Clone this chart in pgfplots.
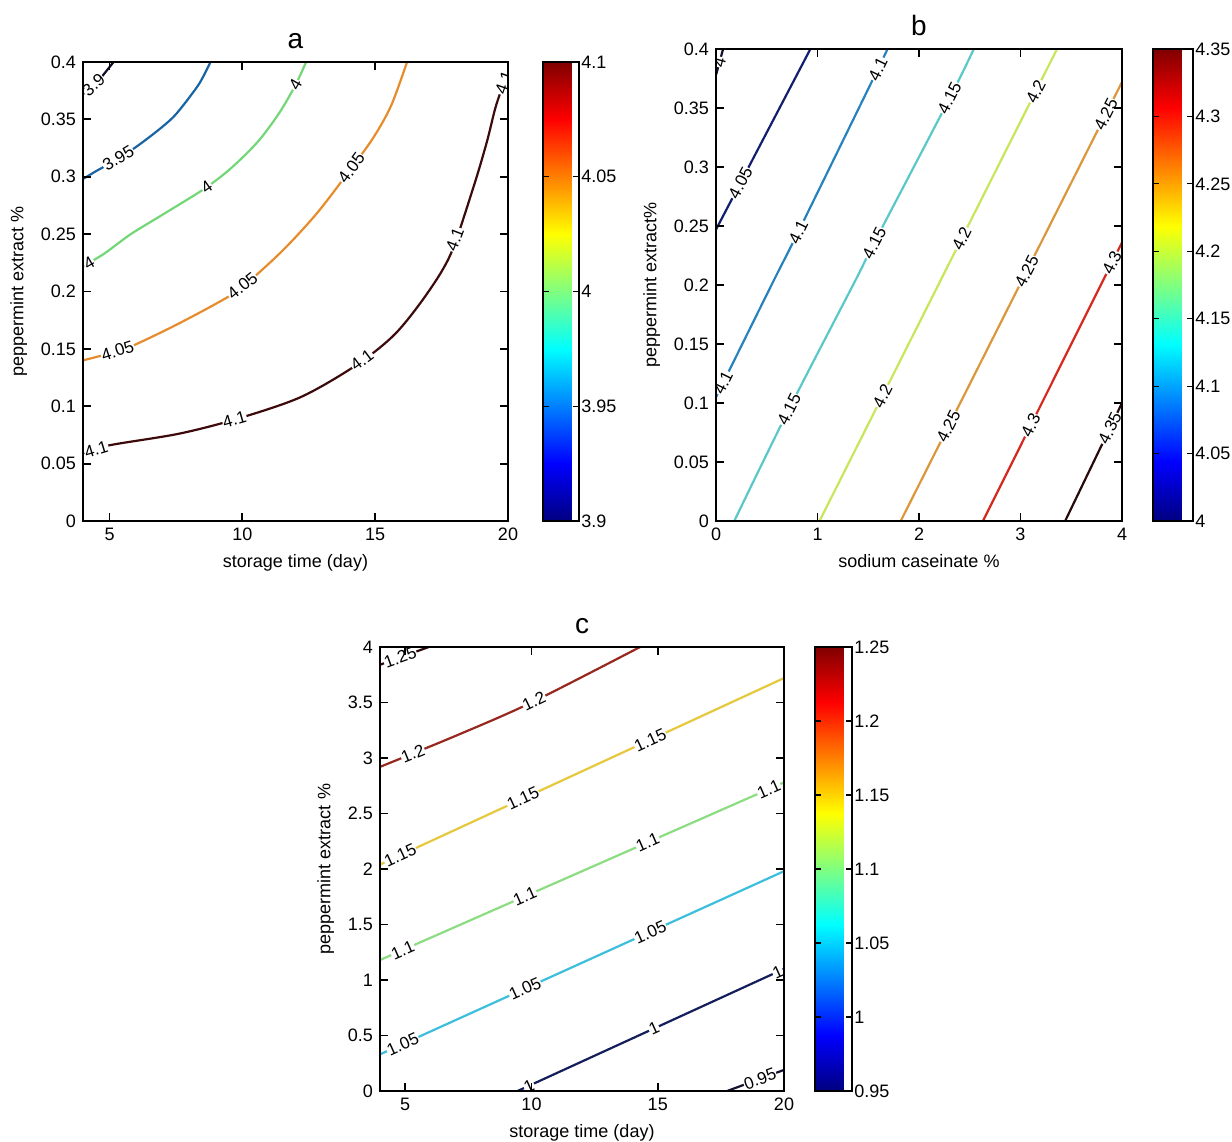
\documentclass[border=0pt]{standalone}
\usepackage{fontspec}
\setmainfont{Liberation Sans}
\usepackage{pgfplots}
\pgfplotsset{compat=1.18}

\newcommand\tk{\fontsize{9}{10}\selectfont}
\newcommand\lb{\fontsize{8.5}{9}\selectfont}

% contour colours (jet, darkened a little like the scan)
\definecolor{a39}{RGB}{15,15,45}
\definecolor{a395}{RGB}{25,100,165}
\definecolor{a4}{RGB}{115,215,120}
\definecolor{a405}{RGB}{230,140,45}
\definecolor{a41}{RGB}{60,10,10}
\definecolor{b4}{RGB}{15,15,45}
\definecolor{b405}{RGB}{20,30,110}
\definecolor{b41}{RGB}{40,130,190}
\definecolor{b415}{RGB}{90,200,200}
\definecolor{b42}{RGB}{200,230,90}
\definecolor{b425}{RGB}{220,150,60}
\definecolor{b43}{RGB}{215,40,30}
\definecolor{b435}{RGB}{40,10,10}
\definecolor{c095}{RGB}{20,20,50}
\definecolor{c1}{RGB}{20,30,90}
\definecolor{c105}{RGB}{60,190,220}
\definecolor{c11}{RGB}{140,220,130}
\definecolor{c115}{RGB}{230,200,60}
\definecolor{c12}{RGB}{150,40,30}
\definecolor{c125}{RGB}{40,10,10}

\tikzset{
  lab/.style={sloped, fill=white, inner sep=0.3pt, font=\lb, text=black},
  cl/.style={line width=1.1pt},
}
\pgfplotsset{
  /pgf/number format/assume math mode=true,
  panel/.style={
    scale only axis,
    axis on top,
    colormap/jet,
    colorbar,
    tick align=inside,
    axis line style={line width=1.1pt},
    major tick style={line width=0.9pt, black},
    major tick length=4pt,
    tick label style={font=\tk},
    label style={font=\tk},
    title style={font=\fontsize{14}{14}\selectfont, yshift=-3pt},
    scaled ticks=false,
    yticklabel style={/pgf/number format/fixed, /pgf/number format/precision=2},
  },
  cbar/.style={
    at={(parent axis.north east)}, anchor=north west,
    scale only axis,
    ytick pos=both, yticklabel pos=right,
    tick align=inside, major tick length=3pt,
    major tick style={line width=0.6pt, black},
    axis line style={line width=0.6pt},
    scaled y ticks=false,
    yticklabel style={font=\tk, inner xsep=1pt, /pgf/number format/fixed, /pgf/number format/precision=2},
  },
}
% label along a contour: two points on the line, then the text
\newcommand\clab[5]{\addplot[draw=none] coordinates {(#1,#2) (#3,#4)} node[pos=0.5,lab]{#5};}

\begin{document}
\begin{tikzpicture}
\useasboundingbox (0,0) rectangle (616pt,570.5pt);

% ---------------- a ----------------
\begin{axis}[panel,
  at={(41.5pt,310pt)}, anchor=south west,
  width=212.5pt, height=229.5pt,
  xmin=4, xmax=20, ymin=0, ymax=0.4,
  xtick={5,10,15,20},
  ytick={0,0.05,0.1,0.15,0.2,0.25,0.3,0.35,0.4},
  title={a},
  xlabel={storage time (day)},
  ylabel={peppermint extract \%},
  point meta min=3.9, point meta max=4.1,
  colorbar style={cbar, xshift=9pt, width=18pt, height=229.5pt,
    ytick={3.9,3.95,4,4.05,4.1}},
]
\addplot[cl, a39] coordinates {(4,0.372) (4.6,0.384) (5.15,0.4)};
\addplot[cl, a395, smooth] coordinates {(4,0.298) (4.5,0.305) (5.2,0.314) (6,0.326) (6.8,0.340) (7.4,0.352) (7.9,0.366) (8.4,0.382) (8.8,0.4)};
\addplot[cl, a4, smooth] coordinates {(4,0.222) (4.8,0.233) (5.8,0.250) (7,0.267) (8.6,0.290) (9.6,0.308) (10.6,0.331) (11.4,0.356) (12,0.380) (12.4,0.4)};
\addplot[cl, a405, smooth] coordinates {(4,0.140) (5,0.146) (5.8,0.152) (7.6,0.172) (9.65,0.198) (10.7,0.218) (11.7,0.240) (12.8,0.268) (13.8,0.298) (14.9,0.333) (15.6,0.362) (16.2,0.4)};
\addplot[cl, a41, smooth] coordinates {(4,0.059) (5,0.066) (7.6,0.076) (9.8,0.089) (12.2,0.108) (14.3,0.136) (15.75,0.163) (16.95,0.198) (17.85,0.233) (18.7,0.291) (19.2,0.330) (19.55,0.362) (20,0.392)};
\clab{4.15}{0.375}{4.65}{0.385}{3.9}
\clab{4.95}{0.311}{5.7}{0.3215}{3.95}
\clab{4}{0.222}{4.45}{0.228}{4}
\clab{8.3}{0.2857}{9.0}{0.2972}{4}
\clab{11.8}{0.372}{12.2}{0.388}{4}
\clab{4.9}{0.1454}{5.7}{0.1514}{4.05}
\clab{9.6}{0.1974}{10.4}{0.2123}{4.05}
\clab{13.7}{0.295}{14.5}{0.3203}{4.05}
\clab{4.1}{0.0597}{4.9}{0.0653}{4.1}
\clab{9.3}{0.0860}{10.1}{0.0914}{4.1}
\clab{14.1}{0.1334}{14.9}{0.1472}{4.1}
\clab{17.7}{0.2272}{18.3}{0.2637}{4.1}
\clab{19.7}{0.372}{20}{0.392}{4.1}
\end{axis}

% ---------------- b ----------------
\begin{axis}[panel,
  at={(358pt,310pt)}, anchor=south west,
  width=203pt, height=236pt,
  xmin=0, xmax=4, ymin=0, ymax=0.4,
  xtick={0,1,2,3,4},
  ytick={0,0.05,0.1,0.15,0.2,0.25,0.3,0.35,0.4},
  title={b},
  xlabel={sodium caseinate \%},
  ylabel={peppermint extract\%},
  point meta min=4, point meta max=4.35,
  colorbar style={cbar, xshift=7pt, width=20pt, height=236pt,
    ytick={4,4.05,4.1,4.15,4.2,4.25,4.3,4.35}},
]
\addplot[cl, b4] coordinates {(0,0.378) (0.07,0.4)};
\addplot[cl, b405] coordinates {(0,0.247) (0.93,0.4)};
\addplot[cl, b41, smooth] coordinates {(0,0.105) (0.15,0.131) (0.57,0.204) (0.81,0.245) (1.55,0.375) (1.69,0.4)};
\addplot[cl, b415, smooth] coordinates {(0.18,0) (0.72,0.095) (1.38,0.205) (1.56,0.236) (2.3,0.358) (2.54,0.4)};
\addplot[cl, b42] coordinates {(1.02,0) (3.36,0.4)};
\addplot[cl, b425] coordinates {(1.82,0) (4,0.372)};
\addplot[cl, b43] coordinates {(2.63,0) (4,0.236)};
\addplot[cl, b435] coordinates {(3.44,0) (4,0.1)};
\clab{0}{0.378}{0.07}{0.4}{4}
\clab{0.12}{0.2667}{0.36}{0.3062}{4.05}
\clab{0}{0.105}{0.14}{0.1293}{4.1}
\clab{0.69}{0.2239}{0.93}{0.2661}{4.1}
\clab{1.5}{0.3662}{1.69}{0.4}{4.1}
\clab{0.6}{0.0739}{0.84}{0.115}{4.15}
\clab{1.44}{0.2153}{1.68}{0.2558}{4.15}
\clab{2.18}{0.3382}{2.42}{0.379}{4.15}
\clab{1.52}{0.0855}{1.76}{0.1265}{4.2}
\clab{2.3}{0.2188}{2.54}{0.2598}{4.2}
\clab{3.03}{0.3435}{3.27}{0.3845}{4.2}
\clab{2.17}{0.0597}{2.41}{0.1006}{4.25}
\clab{2.94}{0.1911}{3.18}{0.2320}{4.25}
\clab{3.72}{0.3241}{3.96}{0.3650}{4.25}
\clab{3.0}{0.0638}{3.2}{0.0982}{4.3}
\clab{3.8}{0.2016}{4.0}{0.2361}{4.3}
\clab{3.78}{0.0607}{3.98}{0.0964}{4.35}
\end{axis}

% ---------------- c ----------------
\begin{axis}[panel,
  at={(190pt,25pt)}, anchor=south west,
  width=202pt, height=222pt,
  xmin=4, xmax=20, ymin=0, ymax=4,
  xtick={5,10,15,20},
  ytick={0,0.5,1,1.5,2,2.5,3,3.5,4},
  title={c},
  xlabel={storage time (day)},
  ylabel={peppermint extract \%},
  point meta min=0.95, point meta max=1.25,
  colorbar style={cbar, xshift=7pt, width=18.5pt, height=222pt,
    ytick={0.95,1,1.05,1.1,1.15,1.2,1.25}},
]
\addplot[cl, c125] coordinates {(4,3.84) (5.93,4.0)};
\addplot[cl, c12, smooth] coordinates {(4,2.92) (7,3.2) (10,3.5) (14.3,4)};
\addplot[cl, c115] coordinates {(4,2.04) (20,3.72)};
\addplot[cl, c11] coordinates {(4,1.18) (20,2.78)};
\addplot[cl, c105] coordinates {(4,0.33) (20,1.98)};
\addplot[cl, c1] coordinates {(9.45,0) (20,1.1)};
\addplot[cl, c095] coordinates {(17.75,0) (20,0.19)};
\clab{4.3}{3.865}{5.3}{3.948}{1.25}
\clab{4.8}{2.9947}{5.8}{3.088}{1.2}
\clab{9.6}{3.46}{10.6}{3.57}{1.2}
\clab{4.3}{2.0715}{5.3}{2.1765}{1.15}
\clab{9.16}{2.5818}{10.16}{2.6868}{1.15}
\clab{14.2}{3.111}{15.2}{3.216}{1.15}
\clab{4.4}{1.22}{5.4}{1.32}{1.1}
\clab{9.24}{1.704}{10.24}{1.804}{1.1}
\clab{14.1}{2.19}{15.1}{2.29}{1.1}
\clab{18.9}{2.67}{19.9}{2.77}{1.1}
\clab{4.4}{0.3712}{5.4}{0.4744}{1.05}
\clab{9.24}{0.8702}{10.24}{0.9734}{1.05}
\clab{14.2}{1.3816}{15.2}{1.4847}{1.05}
\clab{9.5}{0.0052}{10.3}{0.0886}{1}
\clab{14.35}{0.5109}{15.35}{0.6152}{1}
\clab{19.5}{1.0479}{20}{1.1}{1}
\clab{18.6}{0.0718}{19.5}{0.1478}{0.95}
\end{axis}
\end{tikzpicture}
\end{document}
